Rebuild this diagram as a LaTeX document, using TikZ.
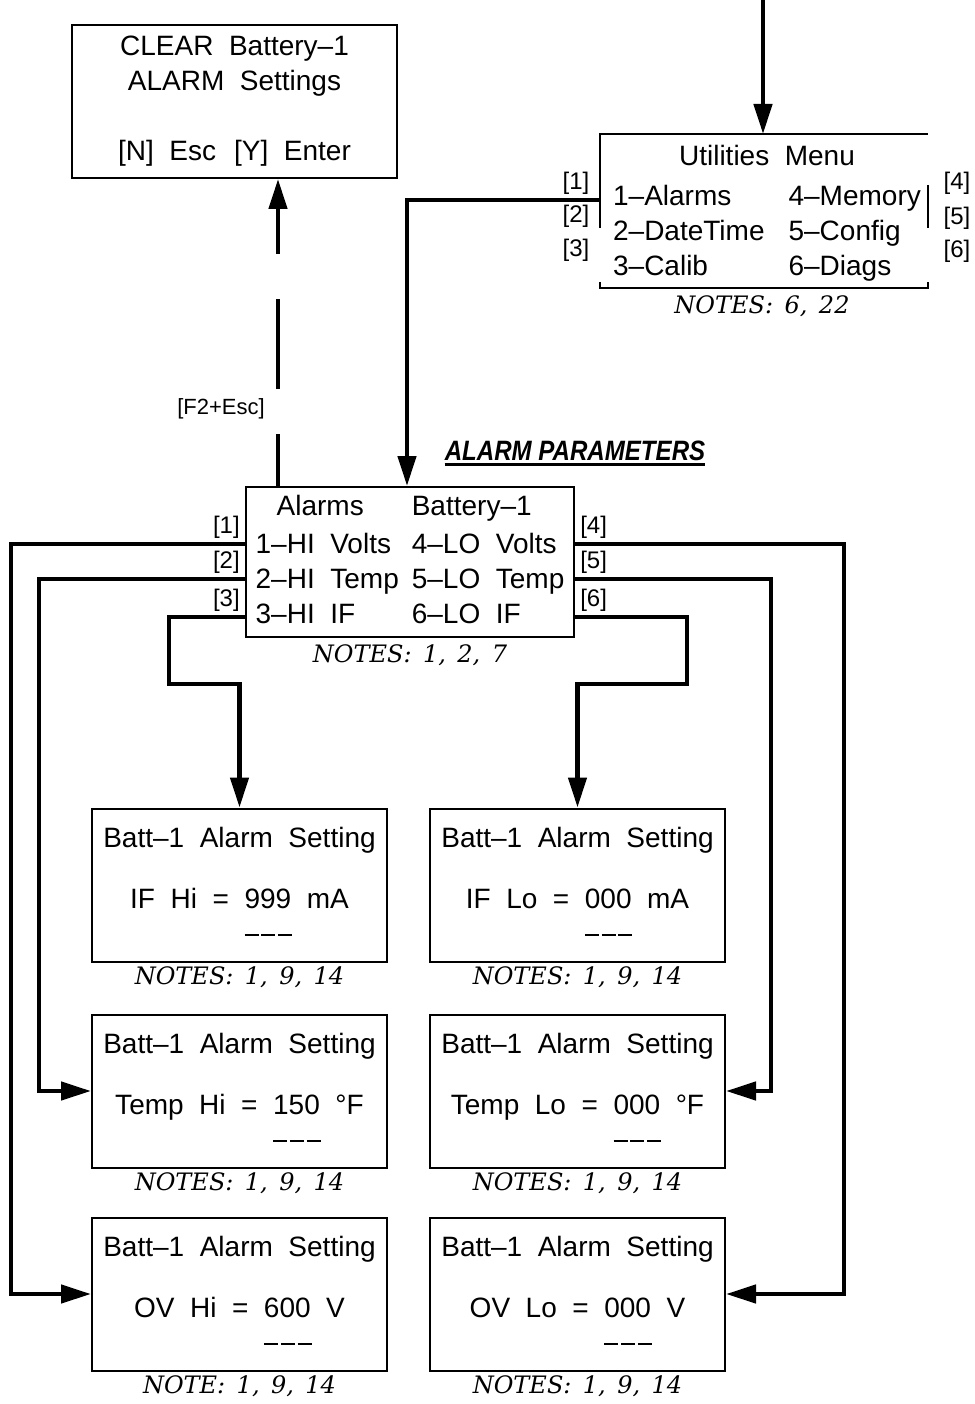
\documentclass[tikz,border=0pt]{standalone}
\usepackage{fontspec}
\setmainfont{Liberation Sans}
\newfontfamily\lcdfont[WordSpace=2]{Liberation Sans}
\newfontfamily\notefont[WordSpace=1.5]{DejaVu Serif}
\newfontfamily\headfont[FakeStretch=0.86]{Liberation Sans}
\usetikzlibrary{arrows.meta,positioning}

\newcommand{\curdash}{\rule[0.25em]{0.5em}{0.07em}}
\newcommand{\dashes}{\curdash\hspace{0.1em}\curdash\hspace{0.1em}\curdash}
\newcommand{\setval}[3]{#1#2#3\\\hphantom{#1}\rlap{\dashes}\hphantom{#2}\hphantom{#3}}

\tikzset{
  lcd/.style={draw, line width=2pt, minimum width=295pt, minimum height=153pt,
    align=center, font=\lcdfont\fontsize{28}{35}\selectfont},
  notes/.style={font=\notefont\itshape\fontsize{24}{28}\selectfont, inner sep=2pt},
  key/.style={font=\lcdfont\fontsize{24}{28}\selectfont, inner sep=3pt},
  flow/.style={line width=4.5pt, -{Triangle[length=30pt,width=18pt]}},
  frame/.style={line width=2pt}
}

\begin{document}
\begin{tikzpicture}[x=1pt, y=-1pt]
      \useasboundingbox (0,0) rectangle (974,1404);
      \node[lcd, minimum width=325pt] (clear) at (234.5,101.5)
        {CLEAR Battery–1\\ALARM Settings\\[35pt]{[N]} Esc\hspace{18pt}{[Y]} Enter};
      \node[inner sep=0pt, font=\lcdfont\fontsize{28}{35}\selectfont] (util) at (767,214)
        {\begin{tabular}{@{}l@{\hspace{24pt}}l@{}}
          \multicolumn{2}{c}{Utilities Menu}\\[5pt]
          1–Alarms & 4–Memory\\
          2–DateTime & 5–Config\\
          3–Calib & 6–Diags
        \end{tabular}};
      \draw[frame] (600,228) -- (600,134) -- (928,134);
      \draw[frame] (600,282) -- (600,288) -- (928,288) -- (928,282);
      \draw[frame] (928,185) -- (928,228);
      \node[key] (u1) at (576,183) {[1]};
      \node[key] (u2) at (576,216) {[2]};
      \node[key] (u3) at (576,250) {[3]};
      \node[key] (u4) at (957,183) {[4]};
      \node[key] (u5) at (957,218) {[5]};
      \node[key] (u6) at (957,251) {[6]};
      \node[notes] (utiln) at (762,306) {NOTES: 6, 22};
      \node[inner sep=0pt, font=\headfont\bfseries\itshape\fontsize{28}{32}\selectfont] (apar) at (575,451) {ALARM PARAMETERS};
      \draw[line width=3pt] ([yshift=-3pt]apar.south west) -- ([yshift=-3pt]apar.south east);
      \node[lcd, minimum width=328pt, minimum height=150pt] (alarm) at (410,562)
        {\begin{tabular}{@{}l@{\hspace{13pt}}l@{}}
          \hspace{21pt}Alarms & Battery–1\\[3pt]
          1–HI Volts & 4–LO Volts\\
          2–HI Temp & 5–LO Temp\\
          3–HI IF & 6–LO IF
        \end{tabular}};
      \node[notes, below=4pt of alarm] (alarmn) {NOTES: 1, 2, 7};
      \node[lcd] (ifhi) at (239.5,885) {Batt–1 Alarm Setting\\[26pt]\setval{IF Hi = }{999}{ mA}};
      \node[lcd] (iflo) at (577.5,885) {Batt–1 Alarm Setting\\[26pt]\setval{IF Lo = }{000}{ mA}};
      \node[lcd] (temphi) at (239.5,1091) {Batt–1 Alarm Setting\\[26pt]\setval{Temp Hi = }{150}{ °F}};
      \node[lcd] (templo) at (577.5,1091) {Batt–1 Alarm Setting\\[26pt]\setval{Temp Lo = }{000}{ °F}};
      \node[lcd] (ovhi) at (239.5,1294) {Batt–1 Alarm Setting\\[26pt]\setval{OV Hi = }{600}{ V}};
      \node[lcd] (ovlo) at (577.5,1294) {Batt–1 Alarm Setting\\[26pt]\setval{OV Lo = }{000}{ V}};
      \node[notes, below=2pt of ifhi] (ifhin) {NOTES: 1, 9, 14};
      \node[notes, below=2pt of iflo] (iflon) {NOTES: 1, 9, 14};
      \node[notes, below=2pt of temphi] (temphin) {NOTES: 1, 9, 14};
      \node[notes, below=2pt of templo] (templon) {NOTES: 1, 9, 14};
      \node[notes, below=2pt of ovhi] (ovhin) {NOTE: 1, 9, 14};
      \node[notes, below=2pt of ovlo] (ovlon) {NOTES: 1, 9, 14};
      \coordinate (entry) at (763,0);
      \coordinate (utop) at (763,134);
      \coordinate (uout) at (600,200);
      \coordinate (back) at ([xshift=33pt]alarm.north west);
      \draw[flow] (entry) -- (utop);
      \draw[flow] (uout) -| ([xshift=162pt]alarm.north west);
      \draw[flow, dash pattern=on 52pt off 45pt on 90pt off 45pt on 200pt] (back) -- (back |- clear.south)
        node[key, pos=0.25, left=8pt, font=\lcdfont\fontsize{22}{26}\selectfont] (esc) {[F2+Esc]};
      \draw[flow] ([yshift=-58pt]alarm.north west) node[key, above left] (a1) {[1]} -- ++(-234,0) |- (ovhi.west);
      \draw[flow] ([yshift=-93pt]alarm.north west) node[key, above left] (a2) {[2]} -- ++(-206,0) |- (temphi.west);
      \draw[flow] ([yshift=-131pt]alarm.north west) node[key, above left] (a3) {[3]} -- ++(-76,0) -- ++(0,67) -| (ifhi.north);
      \draw[flow] ([yshift=-58pt]alarm.north east) node[key, above right] (a4) {[4]} -- ++(269,0) |- (ovlo.east);
      \draw[flow] ([yshift=-93pt]alarm.north east) node[key, above right] (a5) {[5]} -- ++(196,0) |- (templo.east);
      \draw[flow] ([yshift=-131pt]alarm.north east) node[key, above right] (a6) {[6]} -- ++(112,0) -- ++(0,67) -| (iflo.north);
\end{tikzpicture}
\end{document}
